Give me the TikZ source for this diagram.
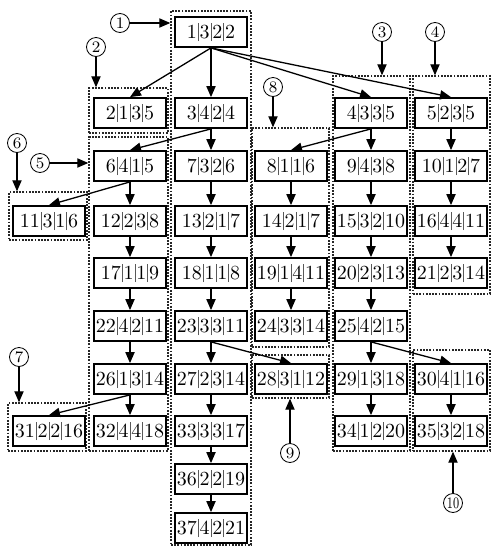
\documentclass[tikz,border=0pt]{standalone}
\usepackage{tikz}
\usetikzlibrary{arrows.meta,fit}
\tikzset{
  cell/.style={rectangle,draw=black,line width=0.9pt,minimum width=36pt,minimum height=15pt,inner sep=0pt},
  grp/.style={rectangle,draw=black!85,line width=0.7pt,dash pattern=on 0.9pt off 0.7pt,inner sep=0pt},
  tag/.style={circle,draw=black,line width=0.4pt,minimum size=9.5pt,inner sep=0pt,font=\footnotesize},
  edge/.style={-{Triangle[length=5.5pt,width=4.6pt]},line width=0.65pt},
}
\newcommand{\vsep}{\kern0.5pt{\color{black!65}\vrule width 0.35pt height 7.8pt depth 1.3pt}\kern0.5pt}
\newcommand{\rec}[4]{#1\vsep#2\vsep#3\vsep#4}

\begin{document}
\begin{tikzpicture}[x=0.5pt,y=-0.5pt]
  \useasboundingbox (0,0) rectangle (494,547);
  % groups
  \node[grp,fit={(171,11) (251,545)}](gC){};
  \node[grp,fit={(89,88) (168,133)}](g2){};
  \node[grp,fit={(89,137) (168,451)}](gB){};
  \node[grp,fit={(9,192) (87,240)}](g11){};
  \node[grp,fit={(8,403) (86,451)}](g31){};
  \node[grp,fit={(252,128) (329,347)}](gD){};
  \node[grp,fit={(252,355) (329,398)}](g28){};
  \node[grp,fit={(333,76) (410,451)}](gE){};
  \node[grp,fit={(413,76) (490,294)}](gF){};
  \node[grp,fit={(413,350) (490,451)}](g30){};
  % states
  \node[cell](n1) at (211,32){\rec{1}{3}{2}{2}};
  \node[cell](n2) at (130,113){\rec{2}{1}{3}{5}}; \node[cell](n3) at (211,113){\rec{3}{4}{2}{4}};
  \node[cell](n4) at (371,113){\rec{4}{3}{3}{5}}; \node[cell](n5) at (451,113){\rec{5}{2}{3}{5}};
  \node[cell](n6) at (130,166){\rec{6}{4}{1}{5}}; \node[cell](n7) at (211,166){\rec{7}{3}{2}{6}};
  \node[cell](n8) at (291,166){\rec{8}{1}{1}{6}}; \node[cell](n9) at (371,166){\rec{9}{4}{3}{8}};
  \node[cell](n10) at (451,166){\rec{10}{1}{2}{7}};
  \node[cell](n11) at (49,221){\rec{11}{3}{1}{6}}; \node[cell](n12) at (130,221){\rec{12}{2}{3}{8}};
  \node[cell](n13) at (211,221){\rec{13}{2}{1}{7}}; \node[cell](n14) at (291,221){\rec{14}{2}{1}{7}};
  \node[cell](n15) at (371,221){\rec{15}{3}{2}{10}}; \node[cell](n16) at (451,221){\rec{16}{4}{4}{11}};
  \node[cell](n17) at (130,273){\rec{17}{1}{1}{9}}; \node[cell](n18) at (211,273){\rec{18}{1}{1}{8}};
  \node[cell](n19) at (291,273){\rec{19}{1}{4}{11}}; \node[cell](n20) at (371,273){\rec{20}{2}{3}{13}};
  \node[cell](n21) at (451,273){\rec{21}{2}{3}{14}};
  \node[cell](n22) at (130,326){\rec{22}{4}{2}{11}}; \node[cell](n23) at (211,326){\rec{23}{3}{3}{11}};
  \node[cell](n24) at (291,326){\rec{24}{3}{3}{14}}; \node[cell](n25) at (371,326){\rec{25}{4}{2}{15}};
  \node[cell](n26) at (130,379){\rec{26}{1}{3}{14}}; \node[cell](n27) at (211,379){\rec{27}{2}{3}{14}};
  \node[cell](n28) at (291,379){\rec{28}{3}{1}{12}}; \node[cell](n29) at (371,379){\rec{29}{1}{3}{18}};
  \node[cell](n30) at (451,379){\rec{30}{4}{1}{16}};
  \node[cell](n31) at (49,431){\rec{31}{2}{2}{16}}; \node[cell](n32) at (130,431){\rec{32}{4}{4}{18}};
  \node[cell](n33) at (211,431){\rec{33}{3}{3}{17}}; \node[cell](n34) at (371,431){\rec{34}{1}{2}{20}};
  \node[cell](n35) at (451,431){\rec{35}{3}{2}{18}};
  \node[cell](n36) at (211,479){\rec{36}{2}{2}{19}};
  \node[cell](n37) at (211,528){\rec{37}{4}{2}{21}};
  % expansions
  \foreach \p/\c in {1/2,1/3,1/4,1/5,3/6,3/7,4/8,4/9,5/10,6/11,6/12,7/13,8/14,9/15,10/16,
      12/17,13/18,14/19,15/20,16/21,17/22,18/23,19/24,20/25,22/26,23/27,23/28,25/29,25/30,
      26/31,26/32,27/33,29/34,30/35,33/36,36/37}
    {\draw[edge] (n\p.south) -- (n\c.north);}
  % markers
  \node[tag](l1) at (120,23){1};  \node[tag](l2) at (96,47){2};
  \node[tag](l3) at (382,32){3};  \node[tag](l4) at (435,32){4};
  \node[tag](l5) at (40,163){5};  \node[tag](l6) at (17,143){6};
  \node[tag](l7) at (19,357){7};  \node[tag](l8) at (273,87){8};
  \node[tag](l9) at (290,453){9};
  \node[tag](l10) at (453,503){\scalebox{0.72}[1]{10}};
  \draw[edge] (l1) -- (gC.west |- l1);
  \draw[edge] (l2) -- (l2 |- g2.north);
  \draw[edge] (l3) -- (l3 |- gE.north);
  \draw[edge] (l4) -- (l4 |- gF.north);
  \draw[edge] (l5) -- (gB.west |- l5);
  \draw[edge] (l6) -- (l6 |- g11.north);
  \draw[edge] (l7) -- (l7 |- g31.north);
  \draw[edge] (l8) -- (l8 |- gD.north);
  \draw[edge] (l9) -- (l9 |- g28.south);
  \draw[edge] (l10) -- (l10 |- g30.south);
\end{tikzpicture}
\end{document}
